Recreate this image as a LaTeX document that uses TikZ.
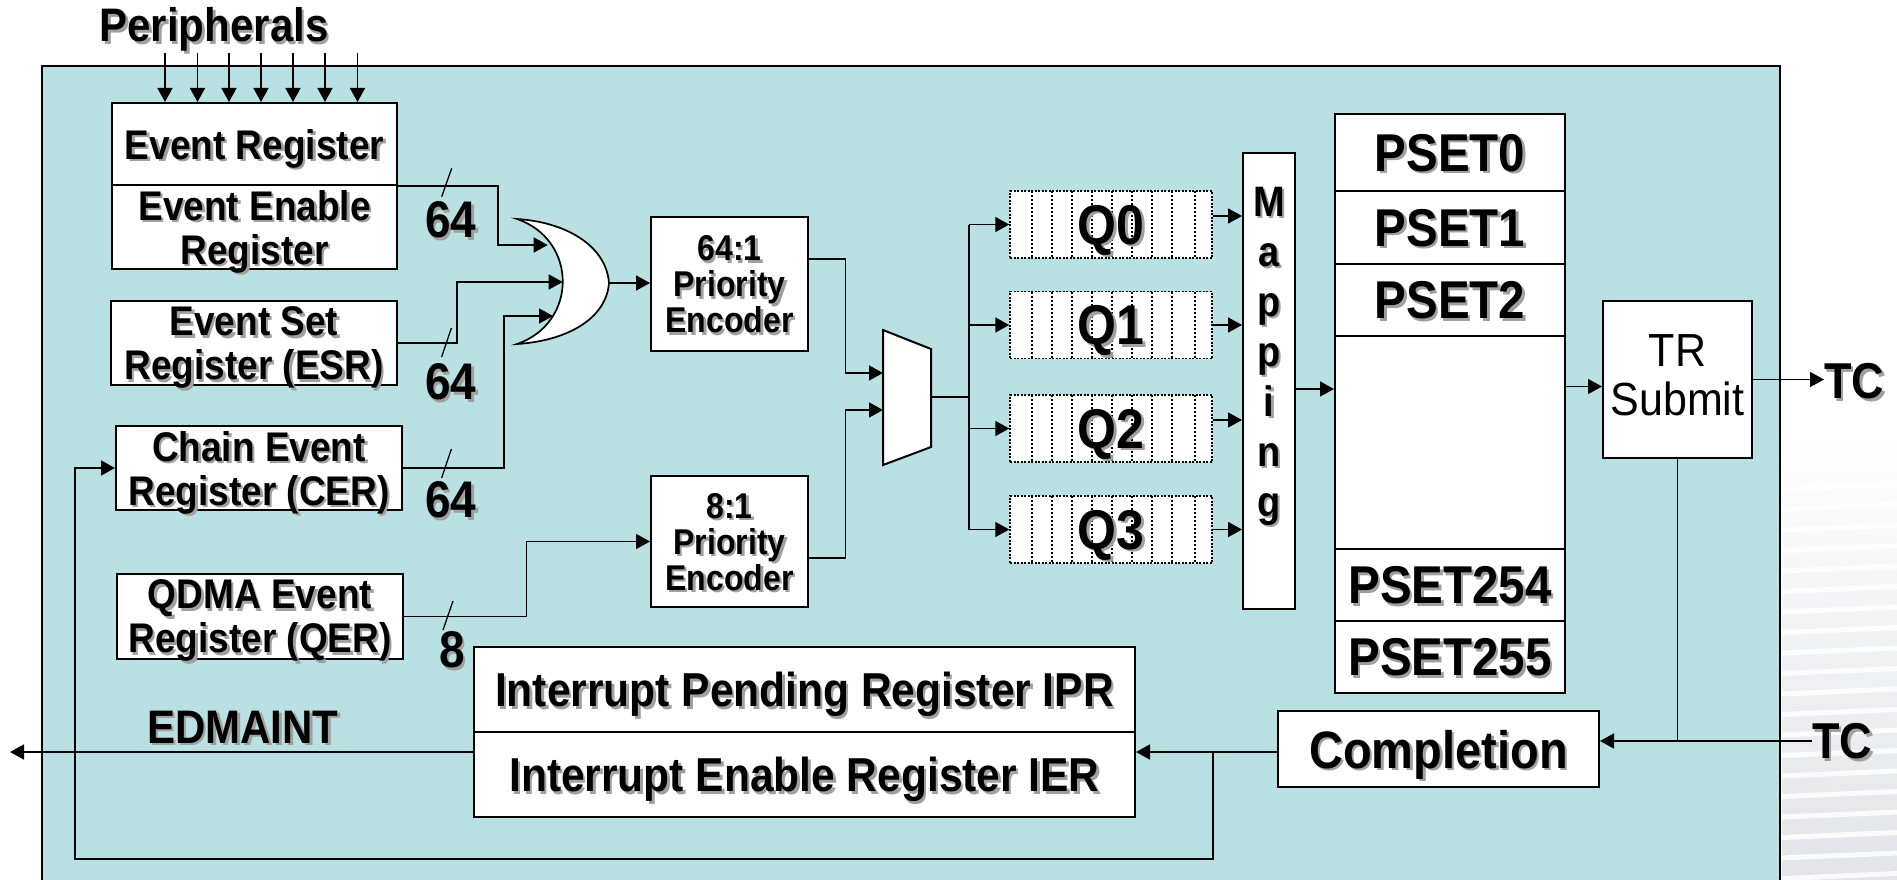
\documentclass[tikz,border=0pt]{standalone}
\usepackage{fontspec}
\usepackage{graphicx}
\setmainfont{Liberation Sans}
\usetikzlibrary{arrows.meta,calc}
\definecolor{panel}{RGB}{185,224,227}
\definecolor{shadowgray}{RGB}{160,160,160}
\definecolor{lav}{RGB}{238,230,244}
\definecolor{stripegray}{RGB}{226,228,233}
% bold text, slightly tall, with a soft drop shadow; depth ignored so caps sit centred
\newcommand\shd[1]{\raisebox{0pt}[\height][0pt]{\scalebox{1}[1.12]{\rlap{\kern2.5pt\raisebox{-2.5pt}{\textcolor{shadowgray}{#1}}}#1}}}
\newcommand\tall[1]{\scalebox{1}[1.08]{#1}}
\newcommand\fs[2]{\fontsize{#1}{#2}\selectfont}

\begin{document}
\begin{tikzpicture}[x=1pt,y=-1pt,
  box/.style={draw, line width=2pt, fill=white, inner sep=0pt, align=center},
  regbox/.style={box, minimum width=286pt, minimum height=84pt, font=\bfseries\fs{37}{44}},
  encbox/.style={box, minimum width=157pt, font=\bfseries\fs{32}{36}},
  psetbox/.style={box, minimum width=230pt, font=\bfseries\fs{47.5}{50}},
  regwide/.style={box, minimum width=661pt, minimum height=85pt, font=\bfseries\fs{42.5}{50}},
  qbox/.style={draw, line width=1.5pt, dash pattern=on 2pt off 1.5pt, fill=white,
    minimum width=202pt, minimum height=67pt, inner sep=0pt, font=\bfseries\fs{50}{50},
    path picture={\foreach \dx in {22,42,62,82,102,122,142,162,185}
      \draw[solid, line width=1.2pt, dash pattern=on 2pt off 2pt]
        ([xshift=\dx pt]path picture bounding box.north west) --
        ([xshift=\dx pt]path picture bounding box.south west);}},
  lbl/.style={inner sep=0pt, font=\bfseries},
  arr/.style={line width=1.7pt, -{Triangle[length=14pt,width=15pt]}},
  wire/.style={line width=1.7pt},
  bus/.style={line width=1.3pt},
]
\clip (0,0) rectangle (1897,880);

% striped backdrop on the right margin
\shade[top color=white, middle color=lav, bottom color=stripegray] (1782,430) rectangle (1897,880);
\foreach \i in {0,...,21}
  \draw[white, line width=5pt, opacity=0.85] (1782,{448+20.5*\i}) -- (1897,{443+20.5*\i});

% panel
\fill[panel] (42,66) rectangle (1780,885);
\draw[line width=2.5pt] (42,885) -- (42,66) -- (1780,66) -- (1780,885);

% ---------- event registers ----------
\node[lbl, font=\bfseries\fs{42}{50}, anchor=base] (per) at (214,41.7) {\shd{Peripherals}};
\node[regbox, minimum width=285pt, minimum height=82pt] (er) at (254.5,144) {\shd{Event Register}};
\node[regbox, minimum width=285pt] (een) at (254.5,227) {\shd{Event Enable}\\\shd{Register}};
\node[regbox] (esr) at (254,343) {\shd{Event Set}\\\shd{Register (ESR)}};
\node[regbox] (cer) at (259,468) {\shd{Chain Event}\\\shd{Register (CER)}};
\node[regbox, minimum height=85pt] (qer) at (260,616.5) {\shd{QDMA Event}\\\shd{Register (QER)}};

\foreach \x in {165,197.5,229,261,293,325,357.5}
  \draw[arr] (\x,53) -- (\x,0 |- er.north);

% ---------- OR gate ----------
\draw[line width=1.7pt, fill=white]
  (517,219) .. controls (565,222) and (606,245) .. (609,283)
  .. controls (606,320) and (565,341) .. (517,344)
  .. controls (578,323) and (578,240) .. cycle;
\coordinate (or1) at (547.7,245);
\coordinate (or2) at (562.7,282);
\coordinate (or3) at (553,316);
\coordinate (orout) at (609,283);

\draw[arr] (er.south east) -| (498,245) -- (or1);
\draw[arr] (esr.east) -| (457,282) -- (or2);
\draw[arr] (cer.east) -| (504,316) -- (or3);

% bus width marks
\draw[bus] (451.7,168.3) -- (441.7,196.7);
\draw[bus] (451.4,328) -- (441.6,357);
\draw[bus] (451.4,449) -- (441.6,478);
\draw[bus] (453,601) -- (443,630);
\node[lbl, font=\bfseries\fs{46}{50}] (w1) at (451,220) {\shd{64}};
\node[lbl, font=\bfseries\fs{46}{50}] (w2) at (451,382) {\shd{64}};
\node[lbl, font=\bfseries\fs{46}{50}] (w3) at (451,500) {\shd{64}};
\node[lbl, font=\bfseries\fs{46}{50}] (w4) at (452,650) {\shd{8}};

% ---------- priority encoders ----------
\node[encbox, minimum height=134pt] (enc64) at (729.5,284) {\shd{64:1}\\\shd{Priority}\\\shd{Encoder}};
\node[encbox, minimum height=131pt] (enc8) at (729.5,541.5) {\shd{8:1}\\\shd{Priority}\\\shd{Encoder}};

\draw[arr] (orout) -- (orout -| enc64.west);
\draw[arr] (qer.east) -| (526.5,541.5) -- (enc8.west);

% ---------- multiplexer ----------
\draw[line width=2pt, fill=white] (883,330) -- (931,349) -- (931,447) -- (883,465) -- cycle;
\coordinate (mi1) at (883,373);
\coordinate (mi2) at (883,410);
\coordinate (mo) at (931,397);
\coordinate (e64o) at (808,259);
\coordinate (e8o) at (808,558);
\draw[arr] (e64o) -| (845.5,373) -- (mi1);
\draw[arr] (e8o) -| (845.5,410) -- (mi2);

% ---------- queues ----------
\node[qbox] (q0) at (1111,224.5) {\shd{Q0}};
\node[qbox] (q1) at (1111,325) {\shd{Q1}};
\node[qbox] (q2) at (1111,428.5) {\shd{Q2}};
\node[qbox] (q3) at (1111,529.5) {\shd{Q3}};

\coordinate (fan) at (969,397);
\draw[wire] (mo) -- (fan);
\draw[wire] (969,224.5) -- (969,529.5);
\foreach \q in {q0,q1,q2,q3}
  \draw[arr] (fan |- \q.west) -- (\q.west);

% ---------- mapping ----------
\node[box, minimum width=52pt, minimum height=456pt] (map) at (1269,381) {};
\foreach \ch [count=\k from 0] in {M,a,p,p,i,n,g}
  \node[lbl, font=\bfseries\fs{38}{40}, anchor=base] (m\k) at (1269,{216+50*\k}) {\shd{\ch}};

\draw[arr] ([yshift=8.5pt]q0.east) -- ([yshift=8.5pt]q0.east -| map.west);
\draw[arr] (q1.east) -- (q1.east -| map.west);
\draw[arr] ([yshift=8.5pt]q2.east) -- ([yshift=8.5pt]q2.east -| map.west);
\draw[arr] (q3.east) -- (q3.east -| map.west);

% ---------- parameter sets ----------
\node[psetbox, minimum height=77pt] (p0) at (1450,152.5) {\shd{PSET0}};
\node[psetbox, minimum height=73pt] (p1) at (1450,227.5) {\shd{PSET1}};
\node[psetbox, minimum height=72pt] (p2) at (1450,300) {\shd{PSET2}};
\node[psetbox, minimum height=213pt] (pgap) at (1450,442.5) {};
\node[psetbox, minimum height=72pt] (p254) at (1450,585) {\shd{PSET254}};
\node[psetbox, minimum height=72pt] (p255) at (1450,657) {\shd{PSET255}};

\draw[arr] ([yshift=-8pt]map.east) -- ([yshift=-8pt]map.east -| pgap.west);

% ---------- transfer request submit ----------
\node[box, minimum width=149pt, minimum height=157pt, font=\fs{43}{49}] (tr) at (1677.5,379.5)
  {\tall{TR}\\\tall{Submit}\rule[-9pt]{0pt}{9pt}};
\draw[arr] ([yshift=-7pt]tr.west -| pgap.east) -- ([yshift=-7pt]tr.west);

\node[lbl, font=\bfseries\fs{45}{50}, anchor=west] (tc1) at (1824,381) {\shd{TC}};
\node[lbl, font=\bfseries\fs{45}{50}, anchor=west] (tc2) at (1812,741) {\shd{TC}};
\draw[arr] (tr.east) -- (tr.east -| tc1.west);

% ---------- completion and interrupts ----------
\node[box, minimum width=321pt, minimum height=76pt, font=\bfseries\fs{47}{50}] (comp) at (1438.5,749) {\shd{Completion}};
\node[regwide] (ipr) at (804.5,689.5) {\shd{Interrupt Pending Register IPR}};
\node[regwide] (ier) at (804.5,774.5) {\shd{Interrupt Enable Register IER}};

\draw[wire] (tr.south) -- (tr.south |- tc2.west);
\draw[arr] (tc2.west) -- (tc2.west -| comp.east);

\coordinate (fb) at (1213,752);
\draw[arr] (comp.west |- fb) -- (fb -| ier.east);
\draw[arr] (fb) |- (75,859) |- (cer.west);

\coordinate (edmtip) at (10,752);
\draw[arr] (ier.west |- fb) -- (edmtip);
\node[lbl, font=\bfseries\fs{42}{50}] (edm) at (243,727) {\shd{EDMAINT}};

\end{tikzpicture}
\end{document}
